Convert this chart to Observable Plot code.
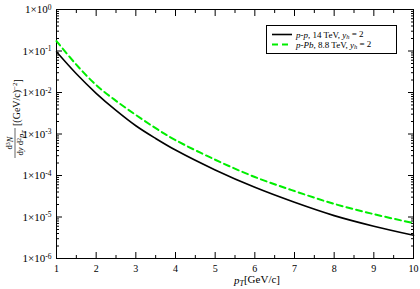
<!DOCTYPE html>
<html><head><meta charset="utf-8">
<script src="https://cdn.jsdelivr.net/npm/d3@7"></script>
<script src="https://cdn.jsdelivr.net/npm/@observablehq/plot@0.6"></script>
<style>
body{margin:0;background:#fff}
#chart{width:420px;height:289px}
</style>
</head><body><div id="chart"></div>
<script>
// ---- data ----
const pT       = [1, 1.5, 2, 2.5, 3, 3.5, 4, 5, 6, 7, 8, 9, 10];
const ppYield  = [0.0955, 0.0282, 0.00955, 0.0037, 0.00158, 7.8e-4, 4.1e-4, 1.36e-4, 5.18e-5, 2.26e-5, 1.08e-5, 6.0e-6, 3.63e-6];
const pPbYield = [0.174, 0.0468, 0.0151, 0.0063, 0.00288, 1.38e-3, 7.13e-4, 2.40e-4, 9.2e-5, 4.22e-5, 2.07e-5, 1.17e-5, 7.1e-6];
const xTicks      = [1, 2, 3, 4, 5, 6, 7, 8, 9, 10];
const xMinorTicks = [1.5, 2.5, 3.5, 4.5, 5.5, 6.5, 7.5, 8.5, 9.5];
const yExponents  = [-6, -5, -4, -3, -2, -1, 0];
const yMantissas  = [2, 3, 4, 5, 6, 7, 8, 9];

const yTicks = yExponents.map(e => Math.pow(10, e));
const yMinorTicks = yExponents.slice(0, -1).flatMap(e => yMantissas.map(m => m * Math.pow(10, e)));

const ppRows  = pT.map((x, i) => ({pT: x, v: ppYield[i]}));
const pPbRows = pT.map((x, i) => ({pT: x, v: pPbYield[i]}));

const FONT = "Liberation Serif, Times New Roman, serif";
const GREEN = "#00ee00";

const blank = () => "";
const svg = Plot.plot({
  width: 420,
  height: 289,
  marginLeft: 56,
  marginRight: 7,
  marginTop: 9,
  marginBottom: 31,
  style: {fontFamily: FONT, fontSize: "10px", background: "#fff", color: "#000"},
  x: {domain: [1, 10]},
  y: {type: "log", domain: [1e-6, 1]},
  marks: [
    // inward major / minor ticks on all four sides
    Plot.axisY(yTicks, {anchor: "left", tickSize: -6, tickFormat: blank, label: null}),
    Plot.axisY(yMinorTicks, {anchor: "left", tickSize: -3, tickFormat: blank, label: null}),
    Plot.axisY(yTicks, {anchor: "right", tickSize: -6, tickFormat: blank, label: null}),
    Plot.axisY(yMinorTicks, {anchor: "right", tickSize: -3, tickFormat: blank, label: null}),
    Plot.axisX(xTicks, {anchor: "bottom", tickSize: -6, tickFormat: blank, label: null}),
    Plot.axisX(xMinorTicks, {anchor: "bottom", tickSize: -3, tickFormat: blank, label: null}),
    Plot.axisX(xTicks, {anchor: "top", tickSize: -6, tickFormat: blank, label: null}),
    Plot.axisX(xMinorTicks, {anchor: "top", tickSize: -3, tickFormat: blank, label: null}),
    // labels
    Plot.axisY(yTicks, {anchor: "left", tickSize: 0, tickPadding: 5, label: null,
      fontSize: 11,
      tickFormat: d => `1×10^${Math.round(Math.log10(d))}`}),
    Plot.axisX(xTicks, {anchor: "bottom", tickSize: 0, tickPadding: 6, label: null,
      fontSize: 10, tickFormat: d => String(d)}),
    Plot.frame({stroke: "#000", strokeWidth: 1}),
    Plot.line(pPbRows, {x: "pT", y: "v", stroke: GREEN, strokeWidth: 2, strokeDasharray: "6,4", curve: "catmull-rom"}),
    Plot.line(ppRows, {x: "pT", y: "v", stroke: "#000", strokeWidth: 1.6, curve: "catmull-rom"})
  ]
});
document.getElementById("chart").appendChild(svg);

const s = d3.select(svg);
// superscripts on y tick labels
s.selectAll('g[aria-label="y-axis tick label"] text').each(function() {
  const txt = this.textContent;
  if (!txt.includes("^")) return;
  const [m, e] = txt.split("^");
  const t = d3.select(this);
  t.text(null);
  t.append("tspan").text(m);
  t.append("tspan").attr("dy", "-0.45em").attr("font-size", "7.5px").text(e);
});

// y axis label (rotated fraction)
const yl = s.append("g").attr("transform", "translate(0,143) rotate(-90)")
  .attr("font-family", FONT).attr("fill", "#000");
const num = yl.append("text").attr("x", 0).attr("y", 12).attr("text-anchor", "middle").attr("font-size", 8.5);
num.append("tspan").text("d");
num.append("tspan").attr("dy", "-0.4em").attr("font-size", 6).text("3");
num.append("tspan").attr("dy", "0.4em").attr("font-style", "italic").text("N");
yl.append("line").attr("x1", -15).attr("x2", 15).attr("y1", 15).attr("y2", 15).attr("stroke", "#000").attr("stroke-width", 0.6);
const den = yl.append("text").attr("x", 0).attr("y", 23).attr("text-anchor", "middle").attr("font-size", 8.5);
den.append("tspan").text("d");
den.append("tspan").attr("font-style", "italic").text("y");
den.append("tspan").text(" d");
den.append("tspan").attr("dy", "-0.4em").attr("font-size", 6).text("2");
den.append("tspan").attr("dy", "0.4em").attr("font-style", "italic").text("p");
den.append("tspan").attr("dy", "0.3em").attr("font-size", 6).attr("font-style", "italic").text("T");
const br = yl.append("text").attr("x", 17).attr("y", 20).attr("text-anchor", "start").attr("font-size", 10);
br.append("tspan").text("[(GeV/c)");
br.append("tspan").attr("dy", "-0.45em").attr("font-size", 7).text("−2");
br.append("tspan").attr("dy", "0.45em").text("]");

// x axis label
const xl = s.append("text").attr("x", 257).attr("y", 284).attr("text-anchor", "middle")
  .attr("font-family", FONT).attr("font-size", 11).attr("fill", "#000");
xl.append("tspan").attr("font-style", "italic").text("p");
xl.append("tspan").attr("dy", "0.3em").attr("font-size", 8).attr("font-style", "italic").text("T");
xl.append("tspan").attr("dy", "-0.3em").text("[GeV/c]");

// legend
const lg = s.append("g").attr("font-family", FONT).attr("font-size", 9).attr("fill", "#000")
  .attr("text-anchor", "start");
lg.append("rect").attr("x", 266.5).attr("y", 25.5).attr("width", 130).attr("height", 28)
  .attr("fill", "#fff").attr("stroke", "#000").attr("stroke-width", 1);
const legendItems = [
  {stroke: "#000", dash: null, width: 1.6, parts: [["p", 1], ["-", 0], ["p", 1], [", 14 TeV, ", 0]]},
  {stroke: GREEN, dash: "6,4", width: 2, parts: [["p", 1], ["-", 0], ["Pb", 1], [", 8.8 TeV, ", 0]]}
];
legendItems.forEach((it, i) => {
  const y = 34.5 + i * 10;
  lg.append("line").attr("x1", 272).attr("x2", 292).attr("y1", y).attr("y2", y)
    .attr("stroke", it.stroke).attr("stroke-width", it.width).attr("stroke-dasharray", it.dash);
  const t = lg.append("text").attr("x", 296).attr("y", y + 3).attr("text-anchor", "start");
  it.parts.forEach(([str, ital]) => t.append("tspan").attr("font-style", ital ? "italic" : null).text(str));
  t.append("tspan").attr("font-style", "italic").text("y");
  t.append("tspan").attr("font-style", "italic").attr("font-size", 6.5).attr("dy", "0.3em").text("h");
  t.append("tspan").attr("dy", "-0.3em").text(" = 2");
});
</script>
</body></html>
